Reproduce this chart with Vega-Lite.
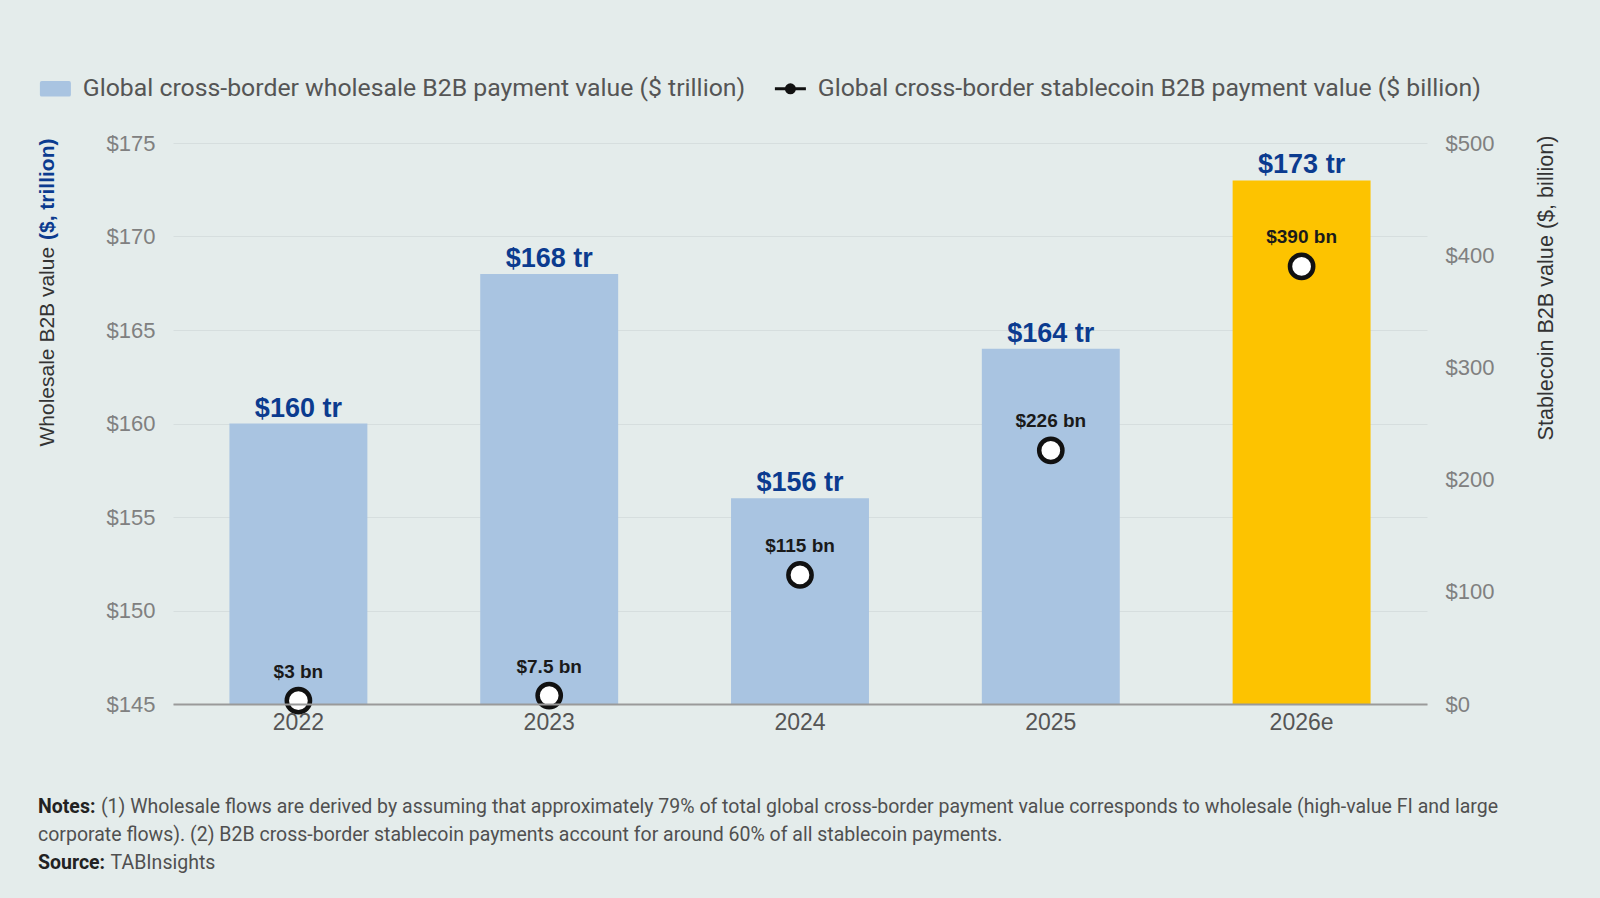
{
  "$schema": "https://vega.github.io/schema/vega-lite/v6.json",
  "width": 1254,
  "height": 561,
  "autosize": {"type": "none"},
  "padding": {"left": 173, "top": 143, "right": 173, "bottom": 194},
  "background": "#e4eceb",
  "config": {
    "view": {"stroke": null},
    "font": "Roboto"
  },
  "title": {
    "text": [
      "\u200b\u00a0\u00a0\u00a0\u00a0\u00a0\u00a0\u00a0\u00a0\u00a0\u00a0\u00a0\u00a0\u00a0(1) Wholesale flows are derived by assuming that approximately 79% of total global cross-border payment value corresponds to wholesale (high-value FI and large",
      "corporate flows). (2) B2B cross-border stablecoin payments account for around 60% of all stablecoin payments.",
      "\u200b\u00a0\u00a0\u00a0\u00a0\u00a0\u00a0\u00a0\u00a0\u00a0\u00a0\u00a0\u00a0\u00a0\u00a0\u00a0TABInsights"
    ],
    "subtitle": ["Notes:", "\u200b", "Source:"],
    "orient": "bottom",
    "anchor": "start",
    "frame": "group",
    "dx": -135,
    "offset": 64,
    "limit": 1600,
    "font": "Roboto",
    "fontSize": 19.5,
    "fontWeight": "normal",
    "color": "#505050",
    "lineHeight": 28,
    "subtitleFont": "Roboto",
    "subtitleFontSize": 19.5,
    "subtitleFontWeight": "bold",
    "subtitleColor": "#222222",
    "subtitleLineHeight": 28,
    "subtitlePadding": -76
  },
  "data": {
    "values": [
      {"year": "2022", "wholesale": 160, "stablecoin": 3},
      {"year": "2023", "wholesale": 168, "stablecoin": 7.5},
      {"year": "2024", "wholesale": 156, "stablecoin": 115},
      {"year": "2025", "wholesale": 164, "stablecoin": 226},
      {"year": "2026e", "wholesale": 173, "stablecoin": 390}
    ]
  },
  "encoding": {
    "x": {
      "field": "year",
      "type": "nominal",
      "sort": null,
      "scale": {"paddingInner": 0.45, "paddingOuter": 0.225},
      "axis": {
        "title": null,
        "labelAngle": 0,
        "labelFont": "Liberation Sans",
        "labelFontSize": 23,
        "labelColor": "#555555",
        "labelPadding": 7,
        "ticks": false,
        "grid": false,
        "domain": true,
        "domainColor": "#9a9a9a",
        "domainWidth": 2,
        "zindex": 1
      }
    }
  },
  "layer": [
    {
      "mark": {"type": "bar"},
      "encoding": {
        "y": {
          "field": "wholesale",
          "type": "quantitative",
          "scale": {"domain": [145, 175], "zero": false, "nice": false},
          "axis": {
            "orient": "left",
            "values": [145, 150, 155, 160, 165, 170, 175],
            "labelExpr": "'$' + datum.value",
            "labelFont": "Liberation Sans",
            "labelFontSize": 22,
            "labelColor": "#808080",
            "labelPadding": 18,
            "ticks": false,
            "domain": false,
            "grid": true,
            "gridColor": "#d6dede",
            "gridWidth": 1,
            "title": "Wholesale B2B value",
            "titleFont": "Liberation Sans",
            "titleFontSize": 21,
            "titleFontWeight": "normal",
            "titleColor": "#333333",
            "titleAngle": -90,
            "titleAlign": "left",
            "titleBaseline": "middle",
            "titleX": -126,
            "titleY": 303
          }
        },
        "y2": {"datum": 145},
        "color": {
          "condition": {"test": "datum.year === '2026e'", "value": "#fdc300"},
          "datum": "Global cross-border wholesale B2B payment value ($ trillion)",
          "type": "nominal",
          "scale": {
            "domain": [
              "Global cross-border wholesale B2B payment value ($ trillion)",
              "Global cross-border stablecoin B2B payment value ($ billion)"
            ],
            "range": ["#a9c4e1", "#111111"]
          },
          "legend": {
            "orient": "none",
            "legendX": -130,
            "legendY": -67,
            "direction": "horizontal",
            "title": null,
            "padding": 0,
            "labelFont": "Roboto",
            "labelFontSize": 24.8,
            "labelColor": "#555555",
            "labelLimit": 900,
            "labelOffset": 15,
            "columnPadding": 22,
            "symbolSize": 961,
            "encode": {
              "symbols": {
                "update": {
                  "shape": {"signal": "datum.value === 'Global cross-border wholesale B2B payment value ($ trillion)' ? 'M-0.88,-0.5H0.88Q1,-0.5,1,-0.38V0.38Q1,0.5,0.88,0.5H-0.88Q-1,0.5,-1,0.38V-0.38Q-1,-0.5,-0.88,-0.5Z' : 'M-1,0L1,0M0.26,0A0.26,0.26,0,1,1,-0.26,0A0.26,0.26,0,1,1,0.26,0Z'"},
                  "fill": {"signal": "datum.value === 'Global cross-border wholesale B2B payment value ($ trillion)' ? '#a9c4e1' : '#111111'"},
                  "stroke": {"signal": "datum.value === 'Global cross-border wholesale B2B payment value ($ trillion)' ? '#a9c4e1' : '#111111'"},
                  "strokeWidth": {"signal": "datum.value === 'Global cross-border wholesale B2B payment value ($ trillion)' ? 0 : 3"},
                  "opacity": {"value": 1}
                }
              }
            }
          }
        }
      }
    },
    {
      "layer": [
        {
          "mark": {"type": "point", "filled": false, "fill": "white", "strokeWidth": 4.5, "size": 540, "opacity": 1},
          "encoding": {
            "y": {
              "field": "stablecoin",
              "type": "quantitative",
              "scale": {"domain": [0, 500], "nice": false},
              "axis": {
                "orient": "right",
                "values": [0, 100, 200, 300, 400, 500],
                "labelExpr": "'$' + datum.value",
                "labelFont": "Liberation Sans",
                "labelFontSize": 22,
                "labelColor": "#808080",
                "labelPadding": 18,
                "ticks": false,
                "domain": false,
                "grid": false,
                "title": "Stablecoin B2B value ($, billion)",
                "titleFont": "Liberation Sans",
                "titleFontSize": 21.6,
                "titleFontWeight": "normal",
                "titleColor": "#333333",
                "titleAngle": -90,
                "titleAlign": "right",
                "titleBaseline": "middle",
                "titleX": 119,
                "titleY": -8
              }
            },
            "color": {
              "datum": "Global cross-border stablecoin B2B payment value ($ billion)",
              "type": "nominal"
            }
          }
        },
        {
          "mark": {
            "type": "text",
            "font": "Liberation Sans",
            "fontSize": 19,
            "fontWeight": "bold",
            "color": "#1a1a1a",
            "baseline": "middle",
            "dy": -29,
            "text": {"expr": "'$' + datum.stablecoin + ' bn'"}
          },
          "encoding": {
            "y": {"field": "stablecoin", "type": "quantitative"}
          }
        }
      ]
    },
    {
      "mark": {
        "type": "text",
        "font": "Liberation Sans",
        "fontSize": 27,
        "fontWeight": "bold",
        "color": "#0b3b8f",
        "baseline": "alphabetic",
        "dy": -7,
        "text": {"expr": "'$' + datum.wholesale + ' tr'"}
      },
      "encoding": {
        "y": {
          "field": "wholesale",
          "type": "quantitative",
          "scale": {"domain": [145, 175], "zero": false, "nice": false},
          "axis": {
            "orient": "left",
            "labels": false,
            "ticks": false,
            "domain": false,
            "grid": false,
            "title": "($, trillion)",
            "titleFont": "Liberation Sans",
            "titleFontSize": 21,
            "titleFontWeight": "bold",
            "titleColor": "#0b3b8f",
            "titleAngle": -90,
            "titleAlign": "right",
            "titleBaseline": "middle",
            "titleX": -126,
            "titleY": -5
          }
        }
      }
    }
  ],
  "resolve": {"scale": {"y": "independent"}}
}
